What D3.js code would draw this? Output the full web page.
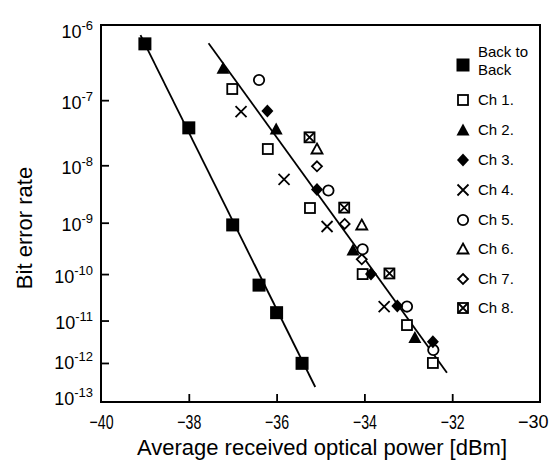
<!DOCTYPE html>
<html>
<head>
<meta charset="utf-8">
<script src="https://cdn.jsdelivr.net/npm/d3@7"></script>
<style>
  html, body { margin: 0; padding: 0; background: #fff; }
  svg { display: block; font-family: "Liberation Sans", Arial, sans-serif; }
</style>
</head>
<body>
<svg id="chart" width="553" height="462"></svg>
<script>
// ---------- data ----------
const xTicks = [-40, -38, -36, -34, -32, -30];
const yTickExponents = [6, 7, 8, 9, 10, 11, 12, 13];

const seriesNames = ["Back to Back", "Ch 1.", "Ch 2.", "Ch 3.", "Ch 4.", "Ch 5.", "Ch 6.", "Ch 7.", "Ch 8."];

const btbPower = [-39.0, -38.0, -37.0, -36.4, -36.0, -35.42];
const btbBER   = [5.8e-7, 3.9e-8, 9.1e-10, 5.9e-11, 1.5e-11, 9.8e-13];

const ch1Power = [-37.01, -36.2, -35.24, -34.04, -33.03, -32.44];
const ch1BER   = [1.44e-7, 1.83e-8, 1.85e-9, 1.0e-10, 7.9e-12, 1.0e-12];

const ch2Power = [-37.22, -36.01, -34.26, -32.85];
const ch2BER   = [2.77e-7, 3.75e-8, 3.03e-10, 4.07e-12];

const ch3Power = [-36.21, -35.08, -33.85, -33.25, -32.44];
const ch3BER   = [6.96e-8, 3.9e-9, 1.0e-10, 2.1e-11, 3.25e-12];

const ch4Power = [-36.81, -35.83, -34.85, -33.55];
const ch4BER   = [6.8e-8, 5.8e-9, 8.5e-10, 2.05e-11];

const ch5Power = [-36.4, -34.82, -34.04, -33.03, -32.43];
const ch5BER   = [1.92e-7, 3.76e-9, 3.13e-10, 2.05e-11, 2.07e-12];

const ch6Power = [-35.08, -34.06];
const ch6BER   = [1.83e-8, 9.06e-10];

const ch7Power = [-35.08, -34.45, -34.06];
const ch7BER   = [9.6e-9, 9.5e-10, 1.99e-10];

const ch8Power = [-35.25, -34.46, -33.43];
const ch8BER   = [2.79e-8, 1.88e-9, 1.03e-10];

// fitted lines (end points)
const btbFitPower = [-39.10, -35.12];
const btbFitBER   = [7.5e-7, 2.48e-13];
const chFitPower  = [-37.55, -32.12];
const chFitBER    = [5.9e-7, 5.74e-13];

// ---------- layout ----------
const svg = d3.select("#chart");
const L = 101, R = 540, T = 25, B = 402;

const x = d3.scaleLinear().domain([-40, -30]).range([L, R]);
// BER axis: -log10(BER) on a logarithmic scale (log(-log BER))
const yExp = d3.scaleLog().domain([6, 13]).range([T, B]);
const y = v => yExp(-Math.log10(v));

// ---------- axes ----------
const xAxis = d3.axisBottom(x).tickValues(xTicks).tickSizeInner(-8).tickSizeOuter(0).tickPadding(13)
  .tickFormat(d => d3.format("d")(d));
const gx = svg.append("g").attr("transform", `translate(0,${B})`).call(xAxis);
gx.select(".domain").remove();
gx.selectAll(".tick line").attr("stroke", "#000").attr("stroke-width", 1.8);
gx.selectAll(".tick text").attr("font-size", 20).attr("fill", "#000")
  .attr("font-family", "Liberation Sans, Arial, sans-serif")
  .attr("textLength", 24).attr("lengthAdjust", "spacingAndGlyphs");
gx.selectAll(".tick").filter(d => d === -30).select("text")
  .attr("font-size", 18).attr("textLength", null).attr("lengthAdjust", null)
  .attr("text-anchor", "end").attr("x", 8);
gx.selectAll(".tick").filter(d => d === -40 || d === -30).select("line").remove();

const yLabelShift = d => d === 6 ? 12 : d === 13 ? 2 : d === 12 ? 6 : 8;
const yAxis = d3.axisLeft(yExp).tickValues(yTickExponents).tickSizeInner(-8).tickSizeOuter(0).tickPadding(8)
  .tickFormat(() => "");
const gy = svg.append("g").attr("transform", `translate(${L},0)`).call(yAxis);
gy.select(".domain").remove();
gy.selectAll(".tick line").attr("stroke", "#000").attr("stroke-width", 1.8);
gy.selectAll(".tick").filter(d => d === 6 || d === 13).select("line").remove();
gy.selectAll(".tick text").each(function(d) {
  const t = d3.select(this);
  t.text(null).attr("x", -8).attr("dy", null).attr("y", yLabelShift(d))
   .attr("text-anchor", "end").attr("fill", "#000")
   .attr("font-family", "Liberation Sans, Arial, sans-serif");
  t.append("tspan").attr("font-size", 18).text("10");
  t.append("tspan").attr("font-size", 13).attr("dy", -8).text("-" + d);
});

// frame
svg.append("rect").attr("x", L).attr("y", T).attr("width", R - L).attr("height", B - T)
  .attr("fill", "none").attr("stroke", "#000").attr("stroke-width", 2);

// axis titles
svg.append("text").attr("x", 322).attr("y", 455).attr("text-anchor", "middle")
  .attr("font-size", 22).attr("fill", "#000").text("Average received optical power [dBm]");
svg.append("text").attr("transform", `translate(32,228) rotate(-90)`)
  .attr("text-anchor", "middle").attr("font-size", 22).attr("fill", "#000").text("Bit error rate");

// ---------- fit lines ----------
const line = d3.line().x(d => x(d[0])).y(d => y(d[1]));
svg.append("path").datum(d3.zip(btbFitPower, btbFitBER)).attr("d", line)
  .attr("fill", "none").attr("stroke", "#000").attr("stroke-width", 1.8);
svg.append("path").datum(d3.zip(chFitPower, chFitBER)).attr("d", line)
  .attr("fill", "none").attr("stroke", "#000").attr("stroke-width", 1.8);

// ---------- markers ----------
function drawMarker(g, type) {
  const sw = 1.8;
  switch (type) {
    case "fsquare":
      g.append("rect").attr("x", -6.5).attr("y", -6.5).attr("width", 13).attr("height", 13).attr("fill", "#000");
      break;
    case "osquare":
      g.append("rect").attr("x", -5).attr("y", -5).attr("width", 10).attr("height", 10)
        .attr("fill", "#fff").attr("stroke", "#000").attr("stroke-width", sw);
      break;
    case "ftri":
      g.append("path").attr("d", "M0,-6.5L6.5,5.5L-6.5,5.5Z").attr("fill", "#000");
      break;
    case "otri":
      g.append("path").attr("d", "M0,-5.5L5.5,4.5L-5.5,4.5Z")
        .attr("fill", "#fff").attr("stroke", "#000").attr("stroke-width", sw);
      break;
    case "fdiam":
      g.append("path").attr("d", "M0,-6.5L6,0L0,6.5L-6,0Z").attr("fill", "#000");
      break;
    case "odiam":
      g.append("path").attr("d", "M0,-5L5,0L0,5L-5,0Z")
        .attr("fill", "#fff").attr("stroke", "#000").attr("stroke-width", sw);
      break;
    case "x":
      g.append("path").attr("d", "M-5.5,-5.5L5.5,5.5M5.5,-5.5L-5.5,5.5")
        .attr("fill", "none").attr("stroke", "#000").attr("stroke-width", sw);
      break;
    case "circle":
      g.append("circle").attr("r", 5.2)
        .attr("fill", "#fff").attr("stroke", "#000").attr("stroke-width", sw);
      break;
    case "xsquare":
      g.append("rect").attr("x", -5).attr("y", -5).attr("width", 10).attr("height", 10)
        .attr("fill", "#fff").attr("stroke", "#000").attr("stroke-width", sw);
      g.append("path").attr("d", "M-5,-5L5,5M5,-5L-5,5")
        .attr("fill", "none").attr("stroke", "#000").attr("stroke-width", sw);
      break;
  }
}

const series = [
  { name: seriesNames[0], type: "fsquare", px: btbPower, py: btbBER },
  { name: seriesNames[1], type: "osquare", px: ch1Power, py: ch1BER },
  { name: seriesNames[2], type: "ftri",    px: ch2Power, py: ch2BER },
  { name: seriesNames[3], type: "fdiam",   px: ch3Power, py: ch3BER },
  { name: seriesNames[4], type: "x",       px: ch4Power, py: ch4BER },
  { name: seriesNames[5], type: "circle",  px: ch5Power, py: ch5BER },
  { name: seriesNames[6], type: "otri",    px: ch6Power, py: ch6BER },
  { name: seriesNames[7], type: "odiam",   px: ch7Power, py: ch7BER },
  { name: seriesNames[8], type: "xsquare", px: ch8Power, py: ch8BER }
];

// draw in an order that keeps open symbols visible
const drawOrder = [0, 8, 7, 6, 5, 1, 4, 3, 2];
drawOrder.forEach(i => {
  const s = series[i];
  d3.zip(s.px, s.py).forEach(p => {
    const g = svg.append("g").attr("transform", `translate(${x(p[0])},${y(p[1])})`);
    drawMarker(g, s.type);
  });
});

// ---------- legend ----------
const legX = 463, legTextX = 478;
const legY = [65, 100, 130, 160, 190, 220, 249, 279, 308];
series.forEach((s, i) => {
  const g = svg.append("g").attr("transform", `translate(${legX},${legY[i]})`);
  drawMarker(g, s.type);
  const t = svg.append("text").attr("x", legTextX).attr("font-size", 15).attr("fill", "#000");
  if (i === 0) {
    t.append("tspan").attr("x", legTextX).attr("y", legY[i] - 8).text("Back to");
    t.append("tspan").attr("x", legTextX).attr("y", legY[i] + 10).text("Back");
  } else {
    t.attr("y", legY[i] + 5).text(s.name);
  }
});
</script>
</body>
</html>
